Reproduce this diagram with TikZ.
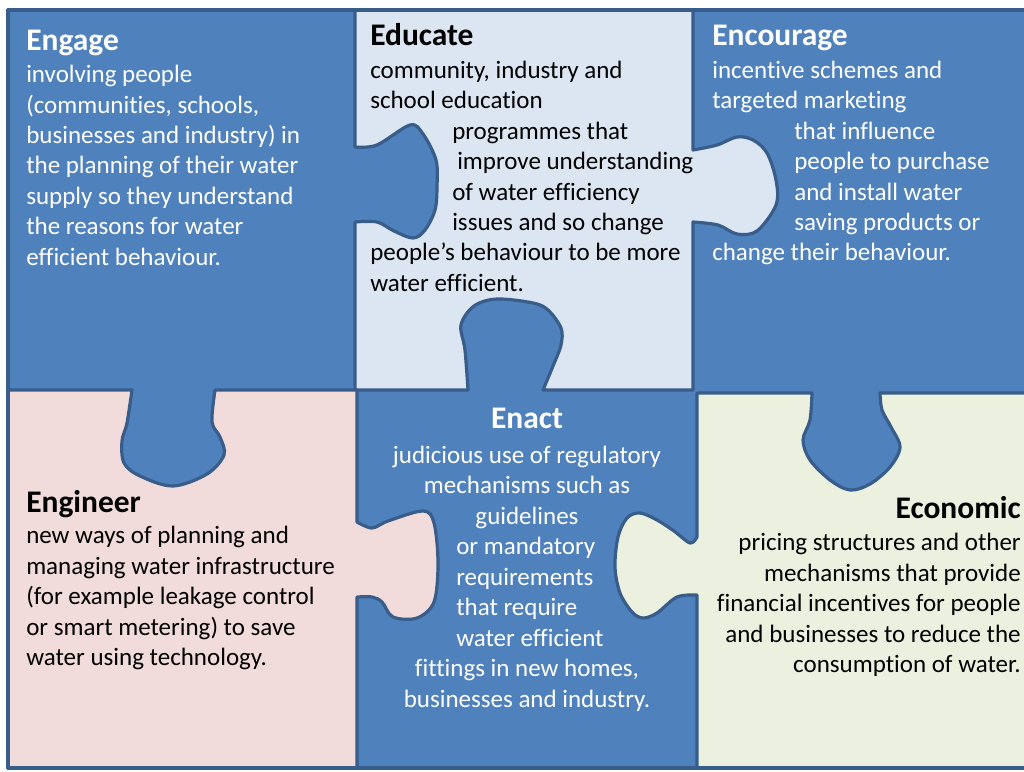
\documentclass[tikz,border=0pt]{standalone}
\usepackage{fontspec}
\setmainfont{Carlito}[RawFeature={-liga;-clig;-dlig}]
\definecolor{pblue}{HTML}{4F81BD}
\definecolor{pedge}{HTML}{385D8A}
\definecolor{plav}{HTML}{DCE6F2}
\definecolor{ppink}{HTML}{F2DCDB}
\definecolor{pgreen}{HTML}{EBF1DE}
\tikzset{
  piece/.style={draw=pedge, line width=2.4pt, line join=round},
  ttl/.style={inner sep=0pt, font=\fontsize{23.6pt}{28pt}\selectfont\bfseries},
  bdy/.style={inner sep=0pt, font=\fontsize{18.75pt}{22.9pt}\selectfont},
  wt/.style={text=white},
  bk/.style={text=black}
}
\begin{document}
\begin{tikzpicture}[x=0.75pt,y=-0.75pt]
\useasboundingbox (0,0) rectangle (1024,771);
\fill[white] (0,0) rectangle (1024,771);
% blue base (Engage, Encourage, Enact)
\fill[pblue] (8,10) rectangle (1036,768);
% Educate piece
\filldraw[piece, fill=plav] (355,10) -- (693,10) -- (693,150)
  -- plot[smooth, tension=0.55] coordinates {(693,150) (717,145) (737,137) (753,140) (767,153) (776,180) (776,205) (757,231) (737,234) (718,225) (693,222)}
  -- (693,390) -- (543,390)
  -- plot[smooth, tension=0.55] coordinates {(543,390) (553,366) (561,345) (561,328) (548,310) (533,303) (497,299) (474,306) (461,325) (465,350) (468,390)}
  -- (355,390) -- (355,222)
  -- plot[smooth, tension=0.55] coordinates {(355,222) (377,222) (394,231) (413,238) (425,230) (435,210) (437,187) (436,160) (423,134) (410,125) (377,145) (355,147)}
  -- cycle;
% Engineer piece
\filldraw[piece, fill=ppink] (8,390) -- (132,390)
  -- plot[smooth, tension=0.55] coordinates {(132,390) (127,423) (122,441) (124,463) (140,476) (173,486) (207,474) (224,455) (220,437) (212,422) (215,390)}
  -- (357,390) -- (357,522)
  -- plot[smooth, tension=0.55] coordinates {(357,522) (372,528) (388,521) (423,511) (434,523) (438,563) (434,602) (417,618) (393,617) (382,602) (372,597) (357,597)}
  -- (357,768) -- (8,768) -- cycle;
% Economic piece
\filldraw[piece, fill=pgreen] (697,393) -- (812,393)
  -- plot[smooth, tension=0.55] coordinates {(812,393) (810,420) (803,440) (810,460) (830,480) (850,490) (870,484) (890,467) (900,447) (891,427) (882,410) (880,393)}
  -- (1036,393) -- (1036,768) -- (697,768) -- (697,595)
  -- plot[smooth, tension=0.55] coordinates {(697,595) (677,597) (657,613) (643,618) (632,612) (620,593) (615,567) (618,537) (627,518) (640,513) (657,520) (674,531) (690,543) (697,537)}
  -- cycle;
% outer frame
\draw[piece] (8,10) rectangle (1036,768);

% Engage
\node[ttl, wt, anchor=base west] (t1) at (26,50) {Engage};
\foreach \yy/\tt [count=\i] in {82/{involving people}, 113/{(communities, schools,}, 143/{businesses and industry) in}, 173/{the planning of their water}, 204/{supply so they understand}, 234/{the reasons for water}, 265/{efficient behaviour.}}
  \node[bdy, wt, anchor=base west] (a\i) at (26,\yy) {\tt};
% Educate
\node[ttl, bk, anchor=base west] (t2) at (370,45) {Educate};
\foreach \xx/\yy/\tt [count=\i] in {370/78/{community, industry and}, 370/108/{school education}, 452/139/{programmes that}, 457/169/{improve understanding}, 452/200/{of water efficiency}, 452/230/{issues and so change}, 370/260/{people’s behaviour to be more}, 370/291/{water efficient.}}
  \node[bdy, bk, anchor=base west] (b\i) at (\xx,\yy) {\tt};
% Encourage
\node[ttl, wt, anchor=base west] (t3) at (712,45) {Encourage};
\foreach \xx/\yy/\tt [count=\i] in {712/78/{incentive schemes and}, 712/108/{targeted marketing}, 794/139/{that influence}, 794/169/{people to purchase}, 794/200/{and install water}, 794/230/{saving products or}, 712/260/{change their behaviour.}}
  \node[bdy, wt, anchor=base west] (c\i) at (\xx,\yy) {\tt};
% Engineer
\node[ttl, bk, anchor=base west] (t4) at (26,512) {Engineer};
\foreach \yy/\tt [count=\i] in {543/{new ways of planning and}, 574/{managing water infrastructure}, 604/{(for example leakage control}, 635/{or smart metering) to save}, 665/{water using technology.}}
  \node[bdy, bk, anchor=base west] (d\i) at (26,\yy) {\tt};
% Enact
\node[ttl, wt, anchor=base] (t5) at (527,428) {Enact};
\foreach \yy/\tt [count=\i] in {463/{judicious use of regulatory}, 493/{mechanisms such as}, 524/{guidelines}, 676/{fittings in new homes,}, 707/{businesses and industry.}}
  \node[bdy, wt, anchor=base] (e\i) at (527,\yy) {\tt};
\foreach \yy/\tt [count=\i] in {554/{or mandatory}, 585/{requirements}, 615/{that require}, 646/{water efficient}}
  \node[bdy, wt, anchor=base west] (f\i) at (456,\yy) {\tt};
% Economic
\node[ttl, bk, anchor=base east] (t6) at (1021,518) {Economic};
\foreach \yy/\tt [count=\i] in {550/{pricing structures and other}, 581/{mechanisms that provide}, 611/{financial incentives for people}, 642/{and businesses to reduce the}, 672/{consumption of water.}}
  \node[bdy, bk, anchor=base east] (g\i) at (1021,\yy) {\tt};
\end{tikzpicture}
\end{document}
